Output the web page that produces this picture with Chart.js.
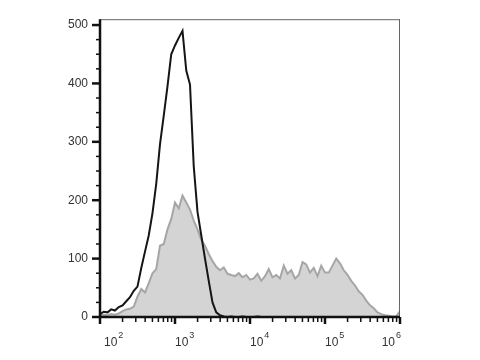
<!DOCTYPE html>
<html>
<head>
<meta charset="utf-8">
<script src="https://cdn.jsdelivr.net/npm/chart.js@4/dist/chart.umd.min.js"></script>
<style>
html,body{margin:0;padding:0;background:#fff;}
canvas{display:block;}
</style>
</head>
<body>
<canvas id="c" width="480" height="360"></canvas>
<script>
// Bin positions (fluorescence intensity, log spaced)
const xValues = [100,112,126,141,158,178,200,224,251,282,316,355,398,447,501,562,631,708,794,891,
  1000,1122,1259,1413,1585,1778,1995,2239,2512,2818,3162,3548,3981,4467,5012,5623,6310,7079,7943,8913,
  10000,11220,12589,14125,15849,17783,19953,22387,25119,28184,31623,35481,39811,44668,50119,56234,63096,70795,79433,89125,
  100000,112202,125893,141254,158489,177828,199526,223872,251189,281838,316228,354813,398107,446684,501187,562341,630957,707946,794328,891251,
  1000000];

// Control (black outline histogram)
const controlCounts = [5,9,8,13,11,17,20,27,34,45,
  52,84,112,140,178,228,296,345,395,450,
  465,478,490,422,398,258,180,140,100,62,
  25,8,3,1,0,1,0,0,1,0,
  0,0,1,0,0,0,0,0,0,0,
  0,0,0,0,0,0,0,0,0,0,
  0,0,0,0,0,0,0,0,0,0,
  0,0,0,0,0,0,0,0,0,0,0];

// Stained sample (grey filled histogram)
const stainedCounts = [3,4,3,5,4,6,10,13,14,18,
  35,48,42,58,75,82,122,125,150,168,
  196,186,208,196,184,165,150,132,122,108,
  96,86,80,85,74,72,70,75,68,72,
  64,66,74,62,70,82,68,72,66,88,
  74,80,66,72,94,90,76,84,70,88,
  76,76,88,100,92,80,72,62,54,44,
  38,28,20,15,8,5,3,2,1,1,10];

const xTickValues = [];
[100,1000,10000,100000].forEach(d => { for (let k = 1; k <= 9; k++) xTickValues.push(d * k); });
xTickValues.push(1000000);
const xMajorTicks = [100,1000,10000,100000,1000000];
const yTickValues = [0,25,50,75,100,125,150,175,200,225,250,275,300,325,350,375,400,425,450,475,500];
const yLabelTicks = [0,100,200,300,400,500];

const FONT = "'Liberation Sans', Arial, sans-serif";

const axesPlugin = {
  id: 'axesPlugin',
  afterDatasetsDraw(chart) {
    const {ctx, chartArea: {left, right, top, bottom}, scales: {x, y}} = chart;
    ctx.save();
    ctx.strokeStyle = '#666';
    ctx.lineWidth = 1;
    ctx.beginPath();
    ctx.moveTo(left, top + 0.5); ctx.lineTo(right, top + 0.5);
    ctx.moveTo(right - 0.5, top); ctx.lineTo(right - 0.5, bottom);
    ctx.stroke();
    ctx.strokeStyle = '#111';
    ctx.lineWidth = 2.5;
    ctx.beginPath();
    ctx.moveTo(left, top); ctx.lineTo(left, bottom + 1);
    ctx.moveTo(left - 1, bottom); ctx.lineTo(right, bottom);
    ctx.stroke();
    x.ticks.forEach(t => {
      const px = x.getPixelForValue(t.value);
      const major = xMajorTicks.includes(t.value);
      ctx.lineWidth = major ? 2.5 : 1.5;
      ctx.beginPath();
      ctx.moveTo(px, bottom);
      ctx.lineTo(px, bottom + (major ? 7 : 5));
      ctx.stroke();
    });
    y.ticks.forEach(t => {
      const py = y.getPixelForValue(t.value);
      const major = yLabelTicks.includes(t.value);
      ctx.lineWidth = major ? 2.5 : 1.5;
      ctx.beginPath();
      ctx.moveTo(left, py);
      ctx.lineTo(left - (major ? 8 : 4), py);
      ctx.stroke();
    });
    ctx.fillStyle = '#333';
    ctx.textBaseline = 'alphabetic';
    ctx.textAlign = 'left';
    xMajorTicks.forEach(v => {
      const px = x.getPixelForValue(v);
      const exp = String(Math.round(Math.log10(v)));
      ctx.font = '12px ' + FONT;
      const w1 = ctx.measureText('10').width;
      ctx.font = '9px ' + FONT;
      const w2 = ctx.measureText(exp).width;
      let lx = px;
      if (lx < left + 4) lx = left + 4;
      if (lx + w1 + w2 + 1 > right + 1) lx = right + 1 - (w1 + w2 + 1);
      ctx.font = '12px ' + FONT;
      ctx.fillText('10', lx, bottom + 29);
      ctx.font = '9px ' + FONT;
      ctx.fillText(exp, lx + w1 + 1, bottom + 21);
    });
    ctx.restore();
  }
};

new Chart(document.getElementById('c'), {
  type: 'line',
  data: {
    datasets: [
      {
        label: 'Control',
        data: xValues.map((v, i) => ({x: v, y: controlCounts[i]})),
        borderColor: '#151515',
        borderWidth: 2,
        fill: false,
        pointRadius: 0,
        tension: 0
      },
      {
        label: 'Stained',
        data: xValues.map((v, i) => ({x: v, y: stainedCounts[i]})),
        borderColor: '#a6a6a6',
        backgroundColor: '#d4d4d4',
        borderWidth: 2,
        fill: 'origin',
        pointRadius: 0,
        tension: 0
      }
    ]
  },
  options: {
    responsive: false,
    animation: false,
    devicePixelRatio: 1,
    layout: {padding: {top: 16, right: 80, left: 0, bottom: 0}},
    plugins: {legend: {display: false}, tooltip: {enabled: false}},
    scales: {
      x: {
        type: 'logarithmic',
        min: 100,
        max: 1000000,
        afterBuildTicks: s => { s.ticks = xTickValues.map(v => ({value: v})); },
        afterFit: s => { s.height = 43; },
        ticks: {display: false},
        grid: {display: false, drawTicks: false},
        border: {display: false}
      },
      y: {
        type: 'linear',
        min: 0,
        max: 510,
        afterBuildTicks: s => { s.ticks = yTickValues.map(v => ({value: v})); },
        afterFit: s => { s.width = 100; },
        ticks: {
          autoSkip: false,
          padding: 12,
          color: '#333',
          font: {family: FONT, size: 12},
          callback: v => (yLabelTicks.includes(v) ? String(v) : '')
        },
        grid: {display: false, drawTicks: false},
        border: {display: false}
      }
    }
  },
  plugins: [axesPlugin]
});
</script>
</body>
</html>
